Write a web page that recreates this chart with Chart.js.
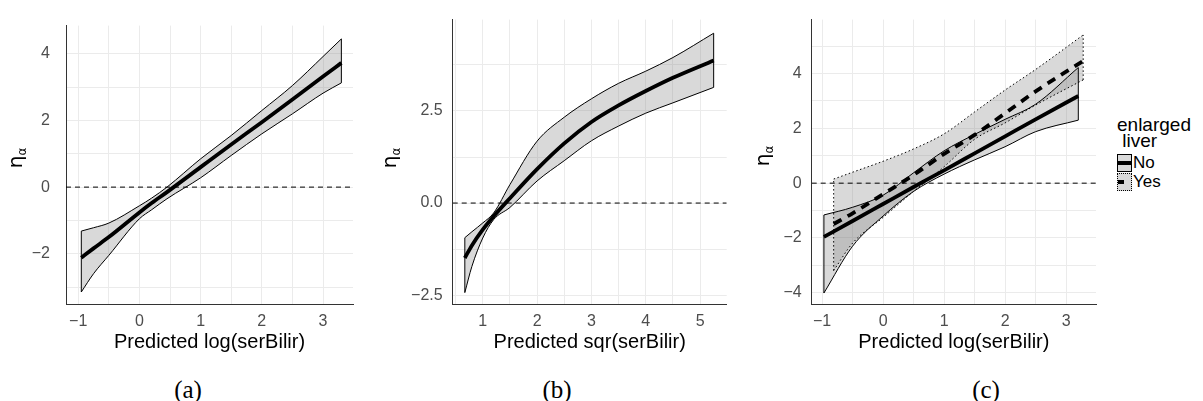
<!DOCTYPE html>
<html lang="en">
<head>
<meta charset="UTF-8">
<title>Predicted serBilir effects</title>
<script src="https://cdn.jsdelivr.net/npm/chart.js"></script>
<style>
    body {
        margin: 0;
        width: 1203px;
        height: 401px;
        background: #fff;
        position: relative;
        overflow: hidden;
        font-family: "Liberation Sans", Arial, sans-serif;
    }
    canvas { position: absolute; top: 0; }
    .ytitle {
        position: absolute;
        transform: translate(-50%, -50%) rotate(-90deg);
        font-family: "DejaVu Sans", sans-serif;
        font-size: 20px;
        color: #000;
        white-space: nowrap;
    }
    .ytitle sub { font-size: 12px; vertical-align: -4px; }
    .caption {
        position: absolute;
        top: 376px;
        transform: translateX(-50%);
        font-family: "Liberation Serif", serif;
        font-size: 25px;
        color: #000;
    }
    #legend { position: absolute; left: 1117px; top: 117px; color: #000; }
    #legend .title { font-size: 19px; line-height: 16px; }
    #legend .row { display: flex; align-items: center; height: 19px; font-size: 17px; }
    #legend .key {
        width: 15px; height: 18px; margin-right: 1px;
        background: #d9d9d9; position: relative; box-sizing: border-box;
    }
    #legend .key.no { border: 1px solid #000; }
    #legend .key.yes { border: 1px dotted #000; }
    #legend .key span { position: absolute; left: 0; right: 0; top: 6px; height: 4px; }
    #legend .key.no span { background: #000; }
    #legend .key.yes span { background: repeating-linear-gradient(to right, #000 0 6px, transparent 6px 13px); }
</style>
</head>
<body>
<canvas id="chartA" width="360" height="360" style="left:0px"></canvas>
<canvas id="chartB" width="335" height="360" style="left:400px"></canvas>
<canvas id="chartC" width="335" height="360" style="left:770px"></canvas>

<div class="ytitle" style="left:16px; top:158px">η<sub>α</sub></div>
<div class="ytitle" style="left:390px; top:158px">η<sub>α</sub></div>
<div class="ytitle" style="left:763px; top:156px">η<sub>α</sub></div>

<div class="caption" style="left:188px">(a)</div>
<div class="caption" style="left:557px">(b)</div>
<div class="caption" style="left:986px">(c)</div>

<div id="legend">
    <div class="title">enlarged<br>&nbsp;liver</div>
    <div class="row" style="margin-top:4px"><div class="key no"><span></span></div>No</div>
    <div class="row"><div class="key yes"><span></span></div>Yes</div>
</div>

<script>
// panel (a): log(serBilir)
const aX     = [-0.95, -0.75, -0.5, 0, 0.2, 0.45, 1, 1.5, 2, 2.5, 3, 3.3];
const aFit   = [-2.12, -1.84, -1.5, -0.76, -0.48, -0.15, 0.6, 1.28, 1.95, 2.63, 3.32, 3.73];
const aUpper = [-1.32, -1.22, -1.08, -0.56, -0.33, 0.0, 0.85, 1.55, 2.3, 3.05, 3.92, 4.45];
const aLower = [-3.15, -2.6, -2.05, -0.95, -0.68, -0.35, 0.28, 0.95, 1.6, 2.2, 2.82, 3.13];

// panel (b): sqr(serBilir)
const bX     = [0.67, 0.8, 1, 1.2, 1.5, 2, 2.5, 3, 3.5, 4, 4.5, 5.25];
const bFit   = [-1.49, -1.15, -0.72, -0.36, 0.13, 0.92, 1.62, 2.2, 2.65, 3.04, 3.4, 3.87];
const bUpper = [-0.94, -0.78, -0.54, -0.27, 0.5, 1.68, 2.33, 2.83, 3.25, 3.58, 3.95, 4.61];
const bLower = [-2.43, -1.72, -0.95, -0.45, -0.12, 0.6, 1.15, 1.69, 2.09, 2.44, 2.72, 3.14];

// panel (c): log(serBilir) by enlarged liver
const cNoX     = [-0.97, -0.5, 0, 0.5, 1, 1.5, 2, 2.5, 3.2];
const cNoFit   = [-1.96, -1.38, -0.76, -0.14, 0.47, 1.09, 1.71, 2.33, 3.18];
const cNoUpper = [-1.16, -0.88, -0.44, 0.38, 1.18, 1.78, 2.33, 2.88, 4.22];
const cNoLower = [-4.01, -2.3, -1.2, -0.3, 0.33, 0.85, 1.33, 1.88, 2.3];
const cYesX     = [-0.81, -0.5, 0, 0.5, 1, 1.5, 2, 2.5, 3.28];
const cYesFit   = [-1.49, -1.1, -0.4, 0.3, 1.07, 1.76, 2.55, 3.35, 4.46];
const cYesUpper = [0.15, 0.4, 0.8, 1.25, 1.8, 2.6, 3.4, 4.15, 5.41];
const cYesLower = [-3.19, -2.19, -1.25, -0.3, 0.6, 1.6, 2.2, 2.85, 3.77];

const BAND_FILL = 'rgba(128,128,128,0.3)';
const TICK_COLOR = '#4d4d4d';

function pts(xs, ys) {
    return xs.map((x, i) => ({ x: x, y: ys[i] }));
}

function minus(s) {
    return s.replace('-', '\u2212');
}

// ribbon: fill between upper and lower, outline incl. end caps
function band(xs, hi, lo, dash) {
    const n = xs.length - 1;
    const edge = {
        borderColor: '#000', borderWidth: 1, borderDash: dash,
        pointRadius: 0, fill: false, order: 5
    };
    return [
        Object.assign({}, edge, { data: pts(xs, hi), fill: '+1', backgroundColor: BAND_FILL,
            cubicInterpolationMode: 'monotone', order: 6 }),
        Object.assign({}, edge, { data: pts(xs, lo), cubicInterpolationMode: 'monotone' }),
        Object.assign({}, edge, { data: [{ x: xs[0], y: lo[0] }, { x: xs[0], y: hi[0] }] }),
        Object.assign({}, edge, { data: [{ x: xs[n], y: lo[n] }, { x: xs[n], y: hi[n] }] })
    ];
}

function fitLine(xs, ys, dash) {
    return {
        data: pts(xs, ys), borderColor: '#000', borderWidth: 3.8, borderDash: dash || [],
        pointRadius: 0, fill: false, cubicInterpolationMode: 'monotone', order: 1
    };
}

function zeroLine(xMin, xMax) {
    return {
        data: [{ x: xMin, y: 0 }, { x: xMax, y: 0 }], borderColor: '#000', borderWidth: 1,
        borderDash: [5, 4], pointRadius: 0, fill: false, order: 2
    };
}

function makeChart(id, p) {
    const isMult = (v, m) => Math.abs(v / m - Math.round(v / m)) < 1e-6;
    return new Chart(document.getElementById(id), {
        type: 'line',
        data: { datasets: p.datasets },
        options: {
            responsive: false,
            animation: false,
            events: [],
            layout: { padding: { top: 10, right: p.rightPad, left: 0, bottom: 0 } },
            plugins: { legend: { display: false }, tooltip: { enabled: false } },
            scales: {
                x: {
                    type: 'linear', min: p.xMin, max: p.xMax,
                    afterFit: s => { s.height = 56; },
                    grid: { color: '#ebebeb', lineWidth: 1, drawTicks: false },
                    border: { display: true, color: '#333', width: 1 },
                    ticks: {
                        stepSize: 0.5, includeBounds: false, autoSkip: false, maxRotation: 0,
                        padding: 8, color: TICK_COLOR,
                        font: { family: 'Liberation Sans', size: 16 },
                        callback: v => isMult(v, 1) ? minus(String(Math.round(v))) : ''
                    },
                    title: {
                        display: true, text: p.xTitle, color: '#000',
                        font: { family: 'Liberation Sans', size: 20 },
                        padding: { top: 0, bottom: 6 }
                    }
                },
                y: {
                    type: 'linear', min: p.yMin, max: p.yMax,
                    afterFit: s => { s.width = p.yWidth; },
                    grid: { color: '#ebebeb', lineWidth: 1, drawTicks: false },
                    border: { display: true, color: '#333', width: 1 },
                    ticks: {
                        stepSize: p.yStep, includeBounds: false, autoSkip: false,
                        padding: p.yPad, color: TICK_COLOR,
                        font: { family: 'Liberation Sans', size: 16 },
                        callback: v => isMult(v, p.yLabelEvery) ? minus(v.toFixed(p.yDec)) : ''
                    }
                }
            }
        }
    });
}

makeChart('chartA', {
    xMin: -1.2, xMax: 3.49, yMin: -3.51, yMax: 4.85, yStep: 1, yLabelEvery: 2, yDec: 0,
    yWidth: 66, yPad: 16, rightPad: 7, xTitle: 'Predicted log(serBilir)',
    datasets: band(aX, aUpper, aLower, []).concat([zeroLine(-1.2, 3.49), fitLine(aX, aFit)])
});

makeChart('chartB', {
    xMin: 0.447, xMax: 5.49, yMin: -2.74, yMax: 4.98, yStep: 1.25, yLabelEvery: 2.5, yDec: 1,
    yWidth: 52.7, yPad: 10, rightPad: 8.3, xTitle: 'Predicted sqr(serBilir)',
    datasets: band(bX, bUpper, bLower, []).concat([zeroLine(0.447, 5.49), fitLine(bX, bFit)])
});

makeChart('chartC', {
    xMin: -1.17, xMax: 3.49, yMin: -4.41, yMax: 5.97, yStep: 1, yLabelEvery: 2, yDec: 0,
    yWidth: 41.7, yPad: 10, rightPad: 9, xTitle: 'Predicted log(serBilir)',
    datasets: band(cNoX, cNoUpper, cNoLower, [])
        .concat(band(cYesX, cYesUpper, cYesLower, [1.5, 2.5]))
        .concat([zeroLine(-1.17, 3.49), fitLine(cNoX, cNoFit), fitLine(cYesX, cYesFit, [9, 7])])
});
</script>
</body>
</html>
